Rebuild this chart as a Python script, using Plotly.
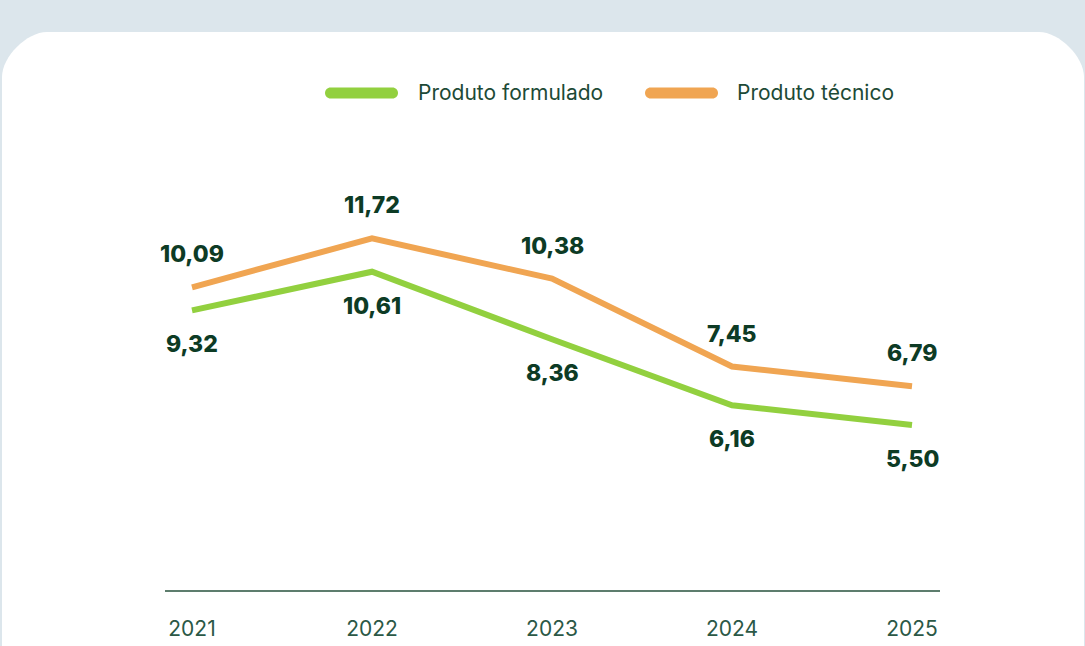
import plotly.graph_objects as go

# data
years = [2021, 2022, 2023, 2024, 2025]
formulado = [9.32, 10.61, 8.36, 6.16, 5.50]
tecnico = [10.09, 11.72, 10.38, 7.45, 6.79]
series_names = ["Produto formulado", "Produto técnico"]

GREEN = "#92d03f"
ORANGE = "#f0a552"
DARK = "#0d3b25"
TICK = "#2b5846"

W, H = 1085, 646
ML, MR, MT, MB = 165, 145, 140, 56
PW, PH = W - ML - MR, H - MT - MB


def px_x(p):
    return (p - ML) / PW


def px_y(p):
    return (H - MB - p) / PH


def path_px(points):
    # pixel points -> paper-coordinate SVG path
    out = []
    for cmd, pts in points:
        coords = " ".join(f"{px_x(x):.5f},{px_y(y):.5f}" for x, y in pts)
        out.append(f"{cmd} {coords}" if coords else cmd)
    return " ".join(out)


def card_path(x0, x1, y0, yb, r):
    k = r * 0.45
    return path_px([
        ("M", [(x0, yb)]),
        ("L", [(x0, y0 + r)]),
        ("C", [(x0, y0 + r - k), (x0 + r - k, y0), (x0 + r, y0)]),
        ("L", [(x1 - r, y0)]),
        ("C", [(x1 - r + k, y0), (x1, y0 + r - k), (x1, y0 + r)]),
        ("L", [(x1, yb)]),
        ("Z", []),
    ])


def pill_path(x0, x1, yc, h):
    r = h / 2
    k = r * 0.55
    return path_px([
        ("M", [(x0 + r, yc - r)]),
        ("L", [(x1 - r, yc - r)]),
        ("C", [(x1 - r + k, yc - r), (x1, yc - k), (x1, yc)]),
        ("C", [(x1, yc + k), (x1 - r + k, yc + r), (x1 - r, yc + r)]),
        ("L", [(x0 + r, yc + r)]),
        ("C", [(x0 + r - k, yc + r), (x0, yc + k), (x0, yc)]),
        ("C", [(x0, yc - k), (x0 + r - k, yc - r), (x0 + r, yc - r)]),
        ("Z", []),
    ])


def fmt(v):
    return f"{v:.2f}".replace(".", ",")


fig = go.Figure()
fig.add_trace(go.Scatter(x=years, y=tecnico, mode="lines", name=series_names[1],
                         line=dict(color=ORANGE, width=6), showlegend=False, hoverinfo="skip"))
fig.add_trace(go.Scatter(x=years, y=formulado, mode="lines", name=series_names[0],
                         line=dict(color=GREEN, width=6), showlegend=False, hoverinfo="skip"))

label_font = dict(family="Inter", size=23, color=DARK, weight=800)
for x, v in zip(years, tecnico):
    fig.add_annotation(x=x, y=v, xref="x", yref="y", text=fmt(v), showarrow=False,
                       yshift=33, font=label_font)
for x, v in zip(years, formulado):
    fig.add_annotation(x=x, y=v, xref="x", yref="y", text=fmt(v), showarrow=False,
                       yshift=-34, font=label_font)

# white rounded card
fig.add_shape(type="path", xref="paper", yref="paper", path=card_path(2, 1084, 32, 720, 45),
              fillcolor="white", line=dict(width=0), layer="below")

# manual legend
legend_items = [(series_names[0], GREEN, 325, 398, 416), (series_names[1], ORANGE, 645, 718, 735)]
for name, col, lx0, lx1, tx in legend_items:
    fig.add_shape(type="path", xref="paper", yref="paper", path=pill_path(lx0, lx1, 93, 11),
                  fillcolor=col, line=dict(width=0))
    fig.add_annotation(x=px_x(tx), y=px_y(92), xref="paper", yref="paper", text=name,
                       showarrow=False, xanchor="left", yanchor="middle",
                       font=dict(family="Inter", size=21, color="#1d4a36"))

fig.update_layout(
    width=W, height=H,
    margin=dict(l=ML, r=MR, t=MT, b=MB),
    paper_bgcolor="#dce6ec",
    plot_bgcolor="rgba(0,0,0,0)",
    showlegend=False,
    xaxis=dict(range=[2021 - 27 / 180, 2021 - 27 / 180 + PW / 180], tickvals=years,
               ticktext=[str(y) for y in years], showgrid=False, zeroline=False,
               showline=True, linecolor="#5d7d6d", linewidth=2, ticks="", automargin=False,
               ticklabelstandoff=19, tickfont=dict(family="Inter", size=21, color=TICK)),
    yaxis=dict(range=[0, PH / 30], visible=False, showgrid=False, zeroline=False,
               automargin=False),
)

fig.write_html("out.html", config={"displayModeBar": False},
               post_script="document.body.style.margin='0';document.body.style.background='#dce6ec';")
